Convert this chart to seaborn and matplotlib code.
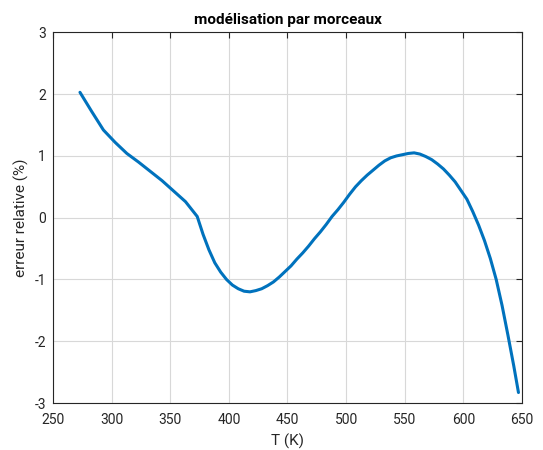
import matplotlib
matplotlib.use("Agg")
import matplotlib.pyplot as plt
import seaborn as sns
import pandas as pd

# Relative error of the piecewise model versus temperature
temperature_K = [273, 283, 293, 303, 313, 323, 333, 343, 353, 363, 373,
                 378, 383, 388, 393, 398, 403, 408, 413, 418, 423, 428,
                 433, 438, 443, 448, 453, 458, 463, 468, 473, 478, 483,
                 488, 493, 498, 503, 508, 513, 518, 523, 528, 533, 538,
                 543, 548, 553, 558, 563, 568, 573, 578, 583, 588, 593,
                 598, 603, 608, 613, 618, 623, 628, 633, 638, 643, 647]
rel_error_pct = [2.03, 1.72, 1.42, 1.22, 1.04, 0.90, 0.75, 0.60, 0.43, 0.26, 0.02,
                 -0.27, -0.52, -0.73, -0.88, -1.00, -1.09, -1.15, -1.19, -1.20, -1.18, -1.15,
                 -1.10, -1.04, -0.96, -0.87, -0.78, -0.67, -0.57, -0.46, -0.34, -0.23, -0.11,
                 0.02, 0.13, 0.25, 0.38, 0.50, 0.60, 0.69, 0.77, 0.85, 0.92, 0.97,
                 1.00, 1.02, 1.04, 1.05, 1.03, 0.99, 0.94, 0.87, 0.79, 0.69, 0.58,
                 0.44, 0.30, 0.10, -0.12, -0.37, -0.66, -1.00, -1.42, -1.90, -2.40, -2.83]

x_ticks = [250, 300, 350, 400, 450, 500, 550, 600, 650]
y_ticks = [-3, -2, -1, 0, 1, 2, 3]

df = pd.DataFrame({"T": temperature_K, "err": rel_error_pct})

sns.set_style("white")
plt.rcParams["font.family"] = ["Roboto", "DejaVu Sans"]
plt.rcParams["axes.unicode_minus"] = False

fig = plt.figure(figsize=(5.43, 4.5), dpi=100)
ax = fig.add_axes([0.0976, 0.1044, 0.8637, 0.8236])

sns.lineplot(data=df, x="T", y="err", ax=ax, color="#0072BD", linewidth=2.2,
             sort=False, estimator=None)

ax.set_xlim(250, 650)
ax.set_ylim(-3, 3)
ax.set_xticks(x_ticks)
ax.set_yticks(y_ticks)
ax.grid(True, color="#d8d8d8", linewidth=0.8)
ax.set_axisbelow(True)

for side in ["left", "right", "top", "bottom"]:
    ax.spines[side].set_visible(True)
    ax.spines[side].set_color("#262626")
    ax.spines[side].set_linewidth(0.8)

ax.tick_params(axis="both", which="both", direction="in", length=4,
               top=True, right=True, labelsize=10, colors="#262626",
               labelcolor="#262626", width=0.8)
ax.tick_params(axis="x", pad=7)
ax.tick_params(axis="y", pad=5)

ax.set_xlabel("T (K)", fontsize=11, color="#262626", labelpad=5)
ax.set_ylabel("erreur relative (%)", fontsize=11, color="#262626", labelpad=4)
ax.set_title("modélisation par morceaux", fontsize=11, fontweight="bold",
             color="black", pad=6)

fig.savefig("out.png", dpi=100)
